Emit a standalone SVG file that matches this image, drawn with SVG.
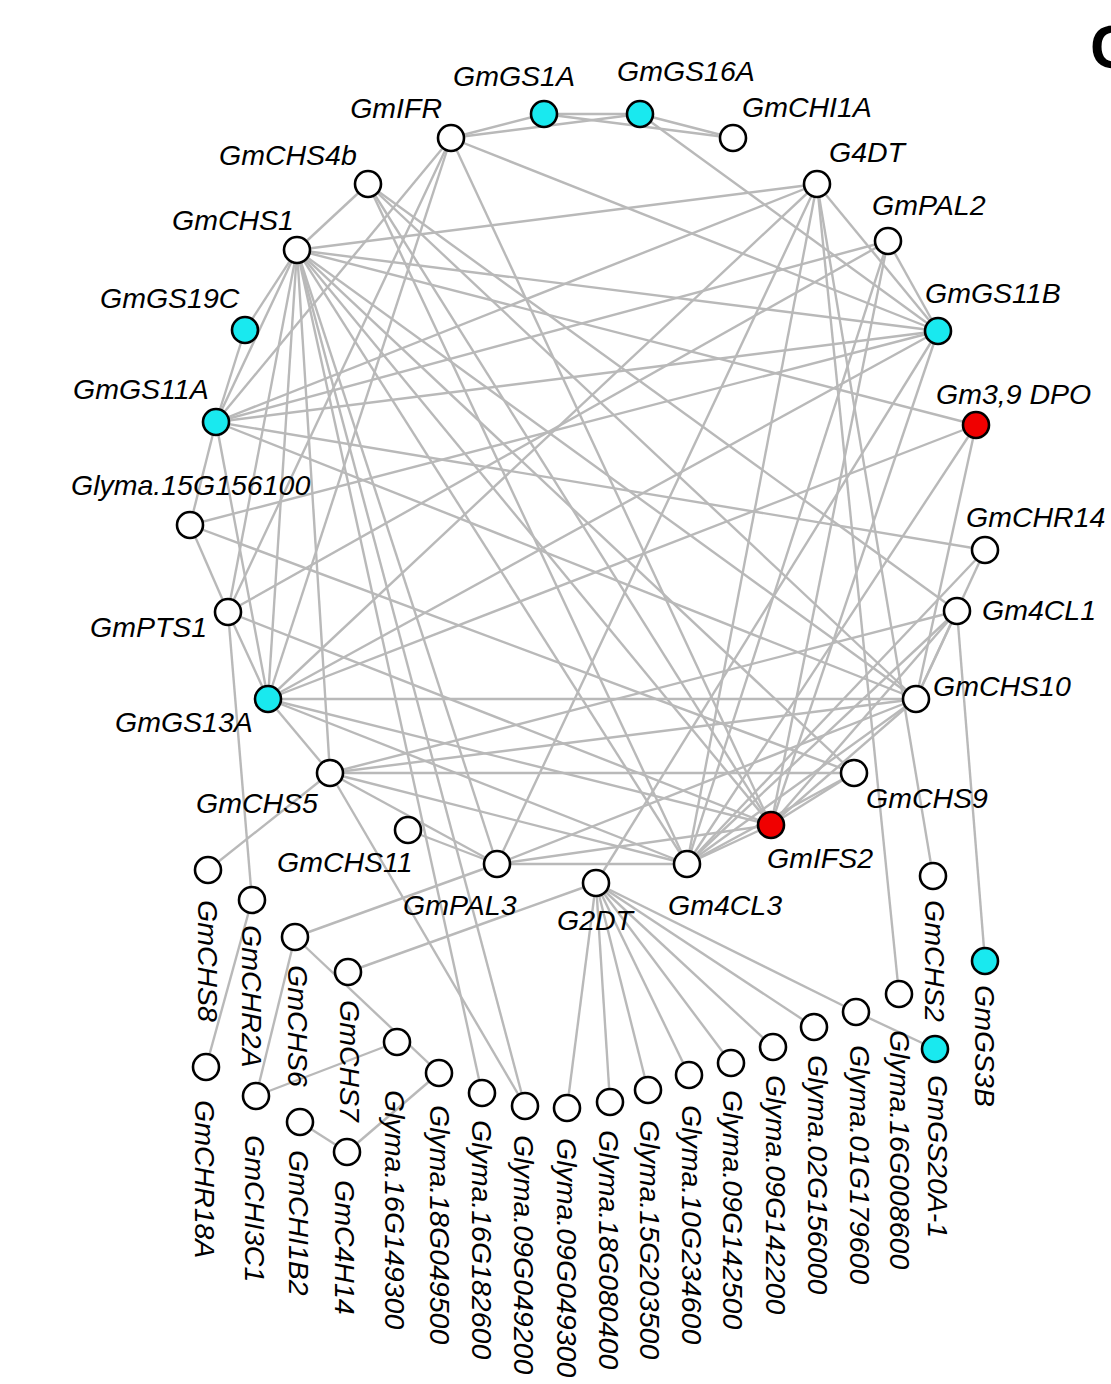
<svg xmlns="http://www.w3.org/2000/svg" width="1111" height="1384" viewBox="0 0 1111 1384">
<style>
.e{stroke:#b9b9b9;stroke-width:2.4;fill:none}
.n{stroke:#000;stroke-width:2.6;fill:#fff}
.c{fill:#19e9ef}
.r{fill:#f00000}
text{font-family:"Liberation Sans",Arial,sans-serif;font-style:italic;font-size:28.5px;fill:#000}
.p{font-style:normal;font-weight:bold;font-size:62px}
</style>
<rect width="1111" height="1384" fill="#fff"/>
<g id="edges">
<line class="e" x1="451" y1="138" x2="544" y2="114"/>
<line class="e" x1="451" y1="138" x2="640" y2="114"/>
<line class="e" x1="544" y1="114" x2="640" y2="114"/>
<line class="e" x1="544" y1="114" x2="733" y2="138"/>
<line class="e" x1="640" y1="114" x2="733" y2="138"/>
<line class="e" x1="640" y1="114" x2="938" y2="331"/>
<line class="e" x1="451" y1="138" x2="938" y2="331"/>
<line class="e" x1="451" y1="138" x2="771" y2="825"/>
<line class="e" x1="451" y1="138" x2="268" y2="699"/>
<line class="e" x1="451" y1="138" x2="228" y2="612"/>
<line class="e" x1="451" y1="138" x2="216" y2="422"/>
<line class="e" x1="368" y1="184" x2="297" y2="250"/>
<line class="e" x1="368" y1="184" x2="957" y2="611"/>
<line class="e" x1="368" y1="184" x2="916" y2="699"/>
<line class="e" x1="368" y1="184" x2="771" y2="825"/>
<line class="e" x1="368" y1="184" x2="687" y2="864"/>
<line class="e" x1="297" y1="250" x2="245" y2="330"/>
<line class="e" x1="297" y1="250" x2="216" y2="422"/>
<line class="e" x1="297" y1="250" x2="228" y2="612"/>
<line class="e" x1="297" y1="250" x2="268" y2="699"/>
<line class="e" x1="297" y1="250" x2="330" y2="773"/>
<line class="e" x1="297" y1="250" x2="497" y2="864"/>
<line class="e" x1="297" y1="250" x2="482" y2="1093"/>
<line class="e" x1="297" y1="250" x2="525" y2="1106"/>
<line class="e" x1="297" y1="250" x2="687" y2="864"/>
<line class="e" x1="297" y1="250" x2="771" y2="825"/>
<line class="e" x1="297" y1="250" x2="854" y2="773"/>
<line class="e" x1="297" y1="250" x2="916" y2="699"/>
<line class="e" x1="297" y1="250" x2="817" y2="184"/>
<line class="e" x1="297" y1="250" x2="938" y2="331"/>
<line class="e" x1="297" y1="250" x2="976" y2="425"/>
<line class="e" x1="245" y1="330" x2="216" y2="422"/>
<line class="e" x1="216" y1="422" x2="190" y2="525"/>
<line class="e" x1="216" y1="422" x2="268" y2="699"/>
<line class="e" x1="216" y1="422" x2="888" y2="241"/>
<line class="e" x1="216" y1="422" x2="938" y2="331"/>
<line class="e" x1="216" y1="422" x2="985" y2="550"/>
<line class="e" x1="216" y1="422" x2="916" y2="699"/>
<line class="e" x1="216" y1="422" x2="817" y2="184"/>
<line class="e" x1="190" y1="525" x2="228" y2="612"/>
<line class="e" x1="190" y1="525" x2="938" y2="331"/>
<line class="e" x1="190" y1="525" x2="854" y2="773"/>
<line class="e" x1="228" y1="612" x2="268" y2="699"/>
<line class="e" x1="228" y1="612" x2="252" y2="900"/>
<line class="e" x1="228" y1="612" x2="888" y2="241"/>
<line class="e" x1="228" y1="612" x2="771" y2="825"/>
<line class="e" x1="268" y1="699" x2="330" y2="773"/>
<line class="e" x1="268" y1="699" x2="916" y2="699"/>
<line class="e" x1="268" y1="699" x2="976" y2="425"/>
<line class="e" x1="268" y1="699" x2="938" y2="331"/>
<line class="e" x1="268" y1="699" x2="817" y2="184"/>
<line class="e" x1="268" y1="699" x2="771" y2="825"/>
<line class="e" x1="268" y1="699" x2="687" y2="864"/>
<line class="e" x1="330" y1="773" x2="208" y2="870"/>
<line class="e" x1="330" y1="773" x2="916" y2="699"/>
<line class="e" x1="330" y1="773" x2="957" y2="611"/>
<line class="e" x1="330" y1="773" x2="854" y2="773"/>
<line class="e" x1="330" y1="773" x2="687" y2="864"/>
<line class="e" x1="330" y1="773" x2="497" y2="864"/>
<line class="e" x1="330" y1="773" x2="525" y2="1106"/>
<line class="e" x1="408" y1="830" x2="497" y2="864"/>
<line class="e" x1="497" y1="864" x2="295" y2="937"/>
<line class="e" x1="497" y1="864" x2="687" y2="864"/>
<line class="e" x1="497" y1="864" x2="771" y2="825"/>
<line class="e" x1="497" y1="864" x2="916" y2="699"/>
<line class="e" x1="497" y1="864" x2="817" y2="184"/>
<line class="e" x1="596" y1="883" x2="348" y2="972"/>
<line class="e" x1="596" y1="883" x2="938" y2="331"/>
<line class="e" x1="596" y1="883" x2="567" y2="1108"/>
<line class="e" x1="596" y1="883" x2="610" y2="1102"/>
<line class="e" x1="596" y1="883" x2="648" y2="1090"/>
<line class="e" x1="596" y1="883" x2="689" y2="1075"/>
<line class="e" x1="596" y1="883" x2="731" y2="1063"/>
<line class="e" x1="596" y1="883" x2="773" y2="1047"/>
<line class="e" x1="596" y1="883" x2="814" y2="1027"/>
<line class="e" x1="596" y1="883" x2="856" y2="1012"/>
<line class="e" x1="856" y1="1012" x2="935" y2="1049"/>
<line class="e" x1="687" y1="864" x2="817" y2="184"/>
<line class="e" x1="687" y1="864" x2="888" y2="241"/>
<line class="e" x1="687" y1="864" x2="771" y2="825"/>
<line class="e" x1="687" y1="864" x2="916" y2="699"/>
<line class="e" x1="687" y1="864" x2="957" y2="611"/>
<line class="e" x1="687" y1="864" x2="985" y2="550"/>
<line class="e" x1="687" y1="864" x2="854" y2="773"/>
<line class="e" x1="687" y1="864" x2="976" y2="425"/>
<line class="e" x1="771" y1="825" x2="854" y2="773"/>
<line class="e" x1="771" y1="825" x2="916" y2="699"/>
<line class="e" x1="771" y1="825" x2="938" y2="331"/>
<line class="e" x1="771" y1="825" x2="888" y2="241"/>
<line class="e" x1="771" y1="825" x2="957" y2="611"/>
<line class="e" x1="916" y1="699" x2="957" y2="611"/>
<line class="e" x1="916" y1="699" x2="985" y2="550"/>
<line class="e" x1="916" y1="699" x2="976" y2="425"/>
<line class="e" x1="817" y1="184" x2="938" y2="331"/>
<line class="e" x1="817" y1="184" x2="899" y2="994"/>
<line class="e" x1="817" y1="184" x2="933" y2="876"/>
<line class="e" x1="888" y1="241" x2="938" y2="331"/>
<line class="e" x1="957" y1="611" x2="985" y2="961"/>
<line class="e" x1="295" y1="937" x2="256" y2="1096"/>
<line class="e" x1="295" y1="937" x2="439" y2="1073"/>
<line class="e" x1="252" y1="900" x2="206" y2="1067"/>
<line class="e" x1="256" y1="1096" x2="397" y2="1042"/>
<line class="e" x1="439" y1="1073" x2="347" y2="1152"/>
<line class="e" x1="300" y1="1122" x2="347" y2="1152"/>
</g>
<text class="p" x="1090" y="68">C</text>
<g id="GmIFR"><circle class="n" cx="451" cy="138" r="13"/><text x="442" y="118" text-anchor="end">GmIFR</text></g>
<g id="GmGS1A"><circle class="n c" cx="544" cy="114" r="13"/><text x="453" y="86">GmGS1A</text></g>
<g id="GmGS16A"><circle class="n c" cx="640" cy="114" r="13"/><text x="617" y="81">GmGS16A</text></g>
<g id="GmCHI1A"><circle class="n" cx="733" cy="138" r="13"/><text x="742" y="117">GmCHI1A</text></g>
<g id="G4DT"><circle class="n" cx="817" cy="184" r="13"/><text x="829" y="162">G4DT</text></g>
<g id="GmPAL2"><circle class="n" cx="888" cy="241" r="13"/><text x="872" y="215">GmPAL2</text></g>
<g id="GmGS11B"><circle class="n c" cx="938" cy="331" r="13"/><text x="925" y="303">GmGS11B</text></g>
<g id="Gm39DPO"><circle class="n r" cx="976" cy="425" r="13"/><text x="936" y="404">Gm3,9 DPO</text></g>
<g id="GmCHR14"><circle class="n" cx="985" cy="550" r="13"/><text x="966" y="527">GmCHR14</text></g>
<g id="Gm4CL1"><circle class="n" cx="957" cy="611" r="13"/><text x="982" y="620">Gm4CL1</text></g>
<g id="GmCHS10"><circle class="n" cx="916" cy="699" r="13"/><text x="933" y="696">GmCHS10</text></g>
<g id="GmCHS9"><circle class="n" cx="854" cy="773" r="13"/><text x="866" y="808">GmCHS9</text></g>
<g id="GmIFS2"><circle class="n r" cx="771" cy="825" r="13"/><text x="767" y="868">GmIFS2</text></g>
<g id="Gm4CL3"><circle class="n" cx="687" cy="864" r="13"/><text x="668" y="915">Gm4CL3</text></g>
<g id="G2DT"><circle class="n" cx="596" cy="883" r="13"/><text x="557" y="930">G2DT</text></g>
<g id="GmPAL3"><circle class="n" cx="497" cy="864" r="13"/><text x="403" y="915">GmPAL3</text></g>
<g id="GmCHS11"><circle class="n" cx="408" cy="830" r="13"/><text x="277" y="872">GmCHS11</text></g>
<g id="GmCHS5"><circle class="n" cx="330" cy="773" r="13"/><text x="196" y="813">GmCHS5</text></g>
<g id="GmGS13A"><circle class="n c" cx="268" cy="699" r="13"/><text x="115" y="732">GmGS13A</text></g>
<g id="GmPTS1"><circle class="n" cx="228" cy="612" r="13"/><text x="90" y="637">GmPTS1</text></g>
<g id="Glyma.15G156100"><circle class="n" cx="190" cy="525" r="13"/><text x="71" y="495">Glyma.15G156100</text></g>
<g id="GmGS11A"><circle class="n c" cx="216" cy="422" r="13"/><text x="73" y="399">GmGS11A</text></g>
<g id="GmGS19C"><circle class="n c" cx="245" cy="330" r="13"/><text x="100" y="308">GmGS19C</text></g>
<g id="GmCHS1"><circle class="n" cx="297" cy="250" r="13"/><text x="172" y="230">GmCHS1</text></g>
<g id="GmCHS4b"><circle class="n" cx="368" cy="184" r="13"/><text x="219" y="165">GmCHS4b</text></g>
<g id="GmCHS8"><circle class="n" cx="208" cy="870" r="13"/><text transform="translate(198,900) rotate(90)">GmCHS8</text></g>
<g id="GmCHR2A"><circle class="n" cx="252" cy="900" r="13"/><text transform="translate(242,925) rotate(90)">GmCHR2A</text></g>
<g id="GmCHS6"><circle class="n" cx="295" cy="937" r="13"/><text transform="translate(288,965) rotate(90)">GmCHS6</text></g>
<g id="GmCHS7"><circle class="n" cx="348" cy="972" r="13"/><text transform="translate(340,1000) rotate(90)">GmCHS7</text></g>
<g id="Glyma.16G149300"><circle class="n" cx="397" cy="1042" r="13"/><text transform="translate(385,1090) rotate(90)">Glyma.16G149300</text></g>
<g id="Glyma.18G049500"><circle class="n" cx="439" cy="1073" r="13"/><text transform="translate(430,1105) rotate(90)">Glyma.18G049500</text></g>
<g id="Glyma.16G182600"><circle class="n" cx="482" cy="1093" r="13"/><text transform="translate(472,1120) rotate(90)">Glyma.16G182600</text></g>
<g id="Glyma.09G049200"><circle class="n" cx="525" cy="1106" r="13"/><text transform="translate(514,1135) rotate(90)">Glyma.09G049200</text></g>
<g id="Glyma.09G049300"><circle class="n" cx="567" cy="1108" r="13"/><text transform="translate(557,1138) rotate(90)">Glyma.09G049300</text></g>
<g id="Glyma.18G080400"><circle class="n" cx="610" cy="1102" r="13"/><text transform="translate(599,1130) rotate(90)">Glyma.18G080400</text></g>
<g id="Glyma.15G203500"><circle class="n" cx="648" cy="1090" r="13"/><text transform="translate(640,1120) rotate(90)">Glyma.15G203500</text></g>
<g id="Glyma.10G234600"><circle class="n" cx="689" cy="1075" r="13"/><text transform="translate(682,1105) rotate(90)">Glyma.10G234600</text></g>
<g id="Glyma.09G142500"><circle class="n" cx="731" cy="1063" r="13"/><text transform="translate(723,1090) rotate(90)">Glyma.09G142500</text></g>
<g id="Glyma.09G142200"><circle class="n" cx="773" cy="1047" r="13"/><text transform="translate(766,1075) rotate(90)">Glyma.09G142200</text></g>
<g id="Glyma.02G156000"><circle class="n" cx="814" cy="1027" r="13"/><text transform="translate(808,1055) rotate(90)">Glyma.02G156000</text></g>
<g id="Glyma.01G179600"><circle class="n" cx="856" cy="1012" r="13"/><text transform="translate(850,1045) rotate(90)">Glyma.01G179600</text></g>
<g id="Glyma.16G008600"><circle class="n" cx="899" cy="994" r="13"/><text transform="translate(890,1030) rotate(90)">Glyma.16G008600</text></g>
<g id="GmGS20A-1"><circle class="n c" cx="935" cy="1049" r="13"/><text transform="translate(928,1075) rotate(90)">GmGS20A-1</text></g>
<g id="GmCHS2"><circle class="n" cx="933" cy="876" r="13"/><text transform="translate(925,900) rotate(90)">GmCHS2</text></g>
<g id="GmGS3B"><circle class="n c" cx="985" cy="961" r="13"/><text transform="translate(975,985) rotate(90)">GmGS3B</text></g>
<g id="GmCHR18A"><circle class="n" cx="206" cy="1067" r="13"/><text transform="translate(195,1100) rotate(90)">GmCHR18A</text></g>
<g id="GmCHI3C1"><circle class="n" cx="256" cy="1096" r="13"/><text transform="translate(245,1135) rotate(90)">GmCHI3C1</text></g>
<g id="GmCHI1B2"><circle class="n" cx="300" cy="1122" r="13"/><text transform="translate(289,1150) rotate(90)">GmCHI1B2</text></g>
<g id="GmC4H14"><circle class="n" cx="347" cy="1152" r="13"/><text transform="translate(335,1180) rotate(90)">GmC4H14</text></g>
</svg>
